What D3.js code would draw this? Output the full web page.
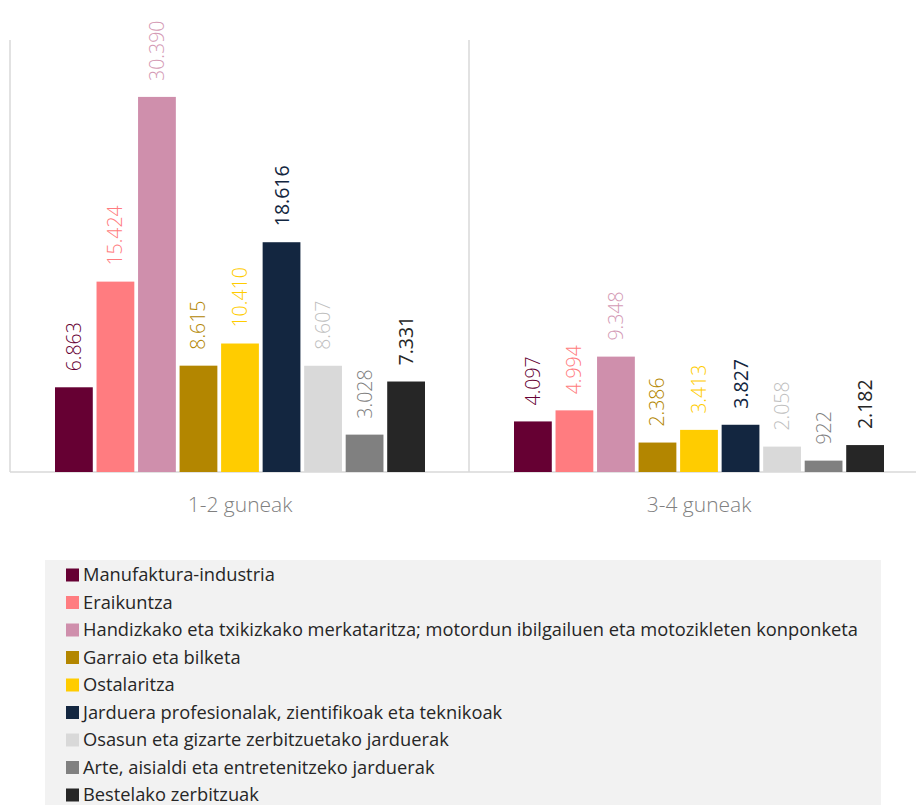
<!DOCTYPE html>
<html>
<head>
<meta charset="utf-8">
<script src="https://cdn.jsdelivr.net/npm/d3@7"></script>
<style>
  body { margin: 0; background: #fff; }
  svg { display: block; font-family: "Open Sans", sans-serif; }
</style>
</head>
<body>
<svg id="chart" width="916" height="805"></svg>
<script>
const groups = ["1-2 guneak", "3-4 guneak"];

const sectors = [
    "Manufaktura-industria",
    "Eraikuntza",
    "Handizkako eta txikizkako merkataritza; motordun ibilgailuen eta motozikleten konponketa",
    "Garraio eta bilketa",
    "Ostalaritza",
    "Jarduera profesionalak, zientifikoak eta teknikoak",
    "Osasun eta gizarte zerbitzuetako jarduerak",
    "Arte, aisialdi eta entretenitzeko jarduerak",
    "Bestelako zerbitzuak"
];

const values12 = [6863, 15424, 30390, 8615, 10410, 18616, 8607, 3028, 7331];
const values34 = [4097, 4994, 9348, 2386, 3413, 3827, 2058, 922, 2182];

const barColours = ["#660033", "#ff7c80", "#cf8fac", "#b38600", "#ffcc00", "#132640", "#d9d9d9", "#808080", "#262626"];
const labelColours = ["#660033", "#ff7c80", "#d49ab5", "#b38600", "#ffcc00", "#132640", "#bfbfbf", "#7f7f7f", "#262626"];

const renderChart = (selector) => {
    const svg = d3.select(selector);
    const baseY = 472, topY = 40;

    const rows = groups.map((g, i) => ({
        group: g,
        values: (i === 0 ? values12 : values34).map((v, j) => ({ sector: sectors[j], value: v, idx: j }))
    }));

    const x0 = d3.scaleBand().domain(groups).range([10, 928]);
    const x1 = d3.scaleBand().domain(sectors).range([45, 415]).paddingInner(0.09);
    const y = d3.scaleLinear().domain([0, 35000]).range([baseY, topY]);

    // separators between categories
    svg.selectAll(".sep")
       .data(groups)
       .enter().append("line")
       .attr("x1", d => x0(d)).attr("x2", d => x0(d))
       .attr("y1", y(35000)).attr("y2", y(0))
       .attr("stroke", "#d9d9d9").attr("stroke-width", 1.5);

    svg.append("line")
       .attr("x1", 10).attr("x2", 916)
       .attr("y1", y(0)).attr("y2", y(0))
       .attr("stroke", "#d9d9d9").attr("stroke-width", 1.5);

    const g = svg.selectAll(".grp")
       .data(rows)
       .enter().append("g")
       .attr("transform", d => `translate(${x0(d.group)},0)`);

    g.selectAll("rect")
       .data(d => d.values)
       .enter().append("rect")
       .attr("x", d => x1(d.sector))
       .attr("width", x1.bandwidth())
       .attr("y", d => y(d.value))
       .attr("height", d => y(0) - y(d.value))
       .attr("fill", d => barColours[d.idx]);

    const fmt = v => d3.format(",")(v).replace(/,/g, ".");

    g.selectAll(".lbl")
       .data(d => d.values)
       .enter().append("text")
       .attr("transform", d => `translate(${x1(d.sector) + x1.bandwidth() / 2 + 7},${y(d.value) - 16}) rotate(-90)`)
       .attr("font-size", 19.5)
       .attr("font-weight", d => [5, 8].includes(d.idx) ? 400 : 300)
       .attr("fill", d => labelColours[d.idx])
       .text(d => fmt(d.value));

    // category labels
    svg.selectAll(".cat")
       .data(groups)
       .enter().append("text")
       .attr("x", d => x0(d) + 230)
       .attr("y", 512)
       .attr("text-anchor", "middle")
       .attr("font-size", 21)
       .attr("font-weight", 300)
       .attr("fill", "#808080")
       .text(d => d);

    // legend
    svg.append("rect")
       .attr("x", 45).attr("y", 560)
       .attr("width", 836).attr("height", 250)
       .attr("fill", "#f2f2f2");

    const leg = svg.selectAll(".leg")
       .data(sectors)
       .enter().append("g")
       .attr("transform", (d, i) => `translate(66,${575 + i * 27.5})`);

    leg.append("rect")
       .attr("x", 0).attr("y", -6.5)
       .attr("width", 13).attr("height", 13)
       .attr("fill", (d, i) => barColours[i]);

    leg.append("text")
       .attr("x", 17).attr("y", 6)
       .attr("font-size", 18.3)
       .attr("fill", "#262626")
       .text(d => d);
};

document.addEventListener("DOMContentLoaded", () => {
    renderChart("#chart");
});
</script>
</body>
</html>
